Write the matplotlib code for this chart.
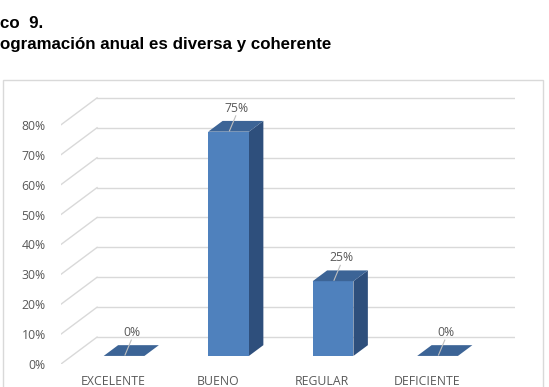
import matplotlib
matplotlib.use('Agg')
import matplotlib.pyplot as plt
from matplotlib.patches import Polygon, Rectangle

# data
categories = ['EXCELENTE', 'BUENO', 'REGULAR', 'DEFICIENTE']
values = [0, 75, 25, 0]
yticks = [0, 10, 20, 30, 40, 50, 60, 70, 80]
title1 = 'co  9.'
title2 = 'ogramación anual es diversa y coherente'

# 3d look: depth of the floor in data units
D = 0.345      # x shift of the back wall
DY = 9.0       # y shift of the back wall
f0, f1 = 0.3, 0.7   # bar depth, as fraction of floor depth
w = 0.39

c_front = '#4F81BD'
c_top = '#3C6496'
c_side = '#2E4F7C'
grid = '#D9D9D9'
txt = '#595959'
lblfont = 'Open Sans'

fig = plt.figure(figsize=(5.49, 3.87), dpi=100)
W, H = 549, 387

# chart frame
fig.patches.append(Rectangle((3 / W, -0.01), 540 / W, (H - 80) / H + 0.01,
                             transform=fig.transFigure, fill=False,
                             edgecolor='#D9D9D9', lw=1))

fig.text(0, 1 - 23 / H, title1, fontsize=12.2, fontweight='bold',
         family='Liberation Sans', va='center', ha='left')
fig.text(0, 1 - 44 / H, title2, fontsize=12.2, fontweight='bold',
         family='Liberation Sans', va='center', ha='left')

# axes: front plane x from 61 to 478 px, 0% at y=364 px, 2.99 px per %
x0px, y0px = 61, 364
pxcat = 104.5
pxpct = 2.99
xmax = 3.5 + D
ymax = 90
ax = fig.add_axes([x0px / W, (H - y0px) / H,
                   (xmax + 0.5) * pxcat / W, ymax * pxpct / H])
ax.set_xlim(-0.5, xmax)
ax.set_ylim(0, ymax)
for s in ax.spines.values():
    s.set_visible(False)
ax.patch.set_alpha(0)

# back wall gridlines + side diagonals
for v in yticks:
    ax.plot([-0.5 + D, 3.5 + D], [v + DY, v + DY], color=grid, lw=1, zorder=1)
    ax.plot([-0.5, -0.5 + D], [v, v + DY], color=grid, lw=1, zorder=1)

ax.set_yticks(yticks)
ax.set_yticklabels(['%d%%' % v for v in yticks])
ax.set_xticks(range(len(categories)))
ax.set_xticklabels(categories)
ax.tick_params(length=0, colors=txt, labelsize=8.8)
ax.tick_params(axis='y', pad=11)
ax.tick_params(axis='x', pad=8)
for lab in ax.get_xticklabels() + ax.get_yticklabels():
    lab.set_family(lblfont)

for i, v in enumerate(values):
    xl = i - w / 2
    xr = i + w / 2
    # front face
    front = [(xl + f0 * D, f0 * DY), (xr + f0 * D, f0 * DY),
             (xr + f0 * D, v + f0 * DY), (xl + f0 * D, v + f0 * DY)]
    top = [(xl + f0 * D, v + f0 * DY), (xr + f0 * D, v + f0 * DY),
           (xr + f1 * D, v + f1 * DY), (xl + f1 * D, v + f1 * DY)]
    side = [(xr + f0 * D, f0 * DY), (xr + f1 * D, f1 * DY),
            (xr + f1 * D, v + f1 * DY), (xr + f0 * D, v + f0 * DY)]
    if v > 0:
        ax.add_patch(Polygon(side, closed=True, fc=c_side, ec='none', zorder=3))
        ax.add_patch(Polygon(front, closed=True, fc=c_front, ec='none', zorder=4))
    ax.add_patch(Polygon(top, closed=True, fc=c_top, ec='none', zorder=4))
    # label with leader line
    cx = i + 0.5 * D
    cy = v + 0.5 * DY
    ax.plot([cx - 0.06, cx], [cy - 1.5, cy + 3.5], color='#BFBFBF',
            lw=0.8, zorder=5)
    ax.text(cx + 0.01, cy + 3.8, '%d%%' % v, ha='center', va='bottom',
            fontsize=8.8, color=txt, family=lblfont, zorder=6)

fig.savefig('out.png', dpi=100)
